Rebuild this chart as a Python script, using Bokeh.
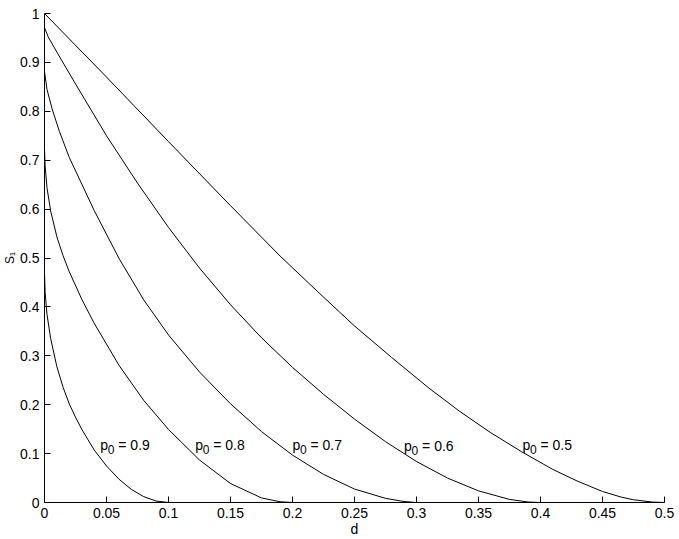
from bokeh.plotting import figure
from bokeh.models import Range1d, FixedTicker, ColumnDataSource
from bokeh.core.properties import value
from bokeh.embed import file_html
from bokeh.resources import INLINE

# values: (d, S_1) for each p0
d_p05 = [0, 0.05, 0.1, 0.15, 0.19, 0.22, 0.25, 0.28, 0.31, 0.335, 0.36, 0.385, 0.41, 0.43,
         0.45, 0.465, 0.475, 0.49, 0.5]
s_p05 = [1.0, 0.870, 0.738, 0.607, 0.504, 0.432, 0.361, 0.2965, 0.234, 0.186, 0.1425, 0.1035,
         0.0675, 0.0435, 0.0225, 0.0111, 0.0056, 0.0009, 0.0]

d_p06 = [0, 0.003, 0.01, 0.025, 0.05, 0.075, 0.1, 0.125, 0.15, 0.175, 0.2, 0.225, 0.25, 0.275,
         0.3, 0.325, 0.35, 0.375, 0.39, 0.4]
s_p06 = [0.971, 0.952, 0.921, 0.856, 0.75, 0.6531, 0.5625, 0.4794, 0.4044, 0.3369, 0.2763,
         0.2213, 0.1706, 0.1244, 0.0838, 0.05, 0.0238, 0.0063, 0.001, 0.0]

d_p07 = [0, 0.002, 0.006, 0.012, 0.02, 0.04, 0.06, 0.08, 0.1, 0.125, 0.15, 0.175, 0.2, 0.225,
         0.25, 0.275, 0.29, 0.3]
s_p07 = [0.881, 0.845, 0.806, 0.759, 0.7055, 0.5975, 0.4995, 0.4145, 0.3425, 0.2669, 0.2019,
         0.145, 0.0969, 0.0575, 0.0275, 0.0085, 0.002, 0.0]

d_p08 = [0, 0.0005, 0.002, 0.005, 0.01, 0.015, 0.02, 0.03, 0.04, 0.06, 0.08, 0.1, 0.125, 0.15,
         0.175, 0.19, 0.2]
s_p08 = [0.722, 0.6887, 0.6437, 0.5957, 0.5432, 0.5044, 0.4719, 0.4159, 0.3669, 0.2809, 0.2089,
         0.1494, 0.0869, 0.0388, 0.0094, 0.0015, 0.0]

d_p09 = [0, 0.0005, 0.002, 0.005, 0.01, 0.015, 0.02, 0.025, 0.03, 0.04, 0.05, 0.06, 0.07, 0.08,
         0.09, 0.1]
s_p09 = [0.469, 0.43, 0.385, 0.335, 0.2775, 0.2355, 0.2015, 0.1745, 0.15, 0.1076, 0.0748, 0.0478,
         0.0269, 0.012, 0.003, 0.0]

curves = [(d_p05, s_p05), (d_p06, s_p06), (d_p07, s_p07), (d_p08, s_p08), (d_p09, s_p09)]

# curve annotations
label_values = ["0.9", "0.8", "0.7", "0.6", "0.5"]
label_x = [0.045, 0.1215, 0.2, 0.29, 0.3855]
label_y = [0.118, 0.118, 0.118, 0.116, 0.118]

x_ticks = [0, 0.05, 0.1, 0.15, 0.2, 0.25, 0.3, 0.35, 0.4, 0.45, 0.5]
x_tick_labels = ["0", "0.05", "0.1", "0.15", "0.2", "0.25", "0.3", "0.35", "0.4", "0.45", "0.5"]
y_ticks = [0, 0.1, 0.2, 0.3, 0.4, 0.5, 0.6, 0.7, 0.8, 0.9, 1]
y_tick_labels = ["0", "0.1", "0.2", "0.3", "0.4", "0.5", "0.6", "0.7", "0.8", "0.9", "1"]

x_title = "d"
y_title = "S\u2081"

FONT = "Liberation Sans"

p = figure(width=679, height=539, x_range=Range1d(0, 0.5), y_range=Range1d(0, 1),
           output_backend="svg", toolbar_location=None,
           min_border_left=44, min_border_right=15, min_border_top=13, min_border_bottom=37)
p.outline_line_color = None
p.grid.visible = False
p.background_fill_color = "white"
p.border_fill_color = "white"

for ax, ticks, labels in ((p.xaxis, x_ticks, x_tick_labels), (p.yaxis, y_ticks, y_tick_labels)):
    ax.ticker = FixedTicker(ticks=ticks)
    ax.major_label_overrides = {t: l for t, l in zip(ticks, labels)}
    ax.minor_tick_line_color = None
    ax.major_tick_in = 6
    ax.major_tick_out = 0
    ax.axis_line_color = "black"
    ax.major_tick_line_color = "black"
    ax.major_label_text_color = "black"
    ax.major_label_text_font = FONT
    ax.major_label_text_font_size = "14px"
    ax.major_label_standoff = 5
    ax.axis_label_text_font = FONT
    ax.axis_label_text_font_style = "normal"
    ax.axis_label_text_color = "black"

p.xaxis.axis_label = x_title
p.xaxis.axis_label_text_font_size = "14px"
p.xaxis.axis_label_standoff = 0
p.yaxis.axis_label = y_title
p.yaxis.axis_label_text_font_size = "12px"
p.yaxis.axis_label_standoff = 0

for dx, sy in curves:
    p.line(dx, sy, line_color="black", line_width=1)

src = ColumnDataSource(dict(x=label_x, y=label_y, p=["p"] * len(label_x),
                            z=["0"] * len(label_x), v=["= " + v for v in label_values]))
p.text("x", "y", text="p", source=src, text_font=value(FONT), text_font_size="14px",
       text_baseline="alphabetic", text_align="left", text_color="black")
p.text("x", "y", text="z", source=src, text_font=value(FONT), text_font_size="12px",
       text_baseline="alphabetic", text_align="left", text_color="black",
       x_offset=7.5, y_offset=5)
p.text("x", "y", text="v", source=src, text_font=value(FONT), text_font_size="14px",
       text_baseline="alphabetic", text_align="left", text_color="black", x_offset=18)

open("out.html", "w").write(file_html(p, INLINE))
